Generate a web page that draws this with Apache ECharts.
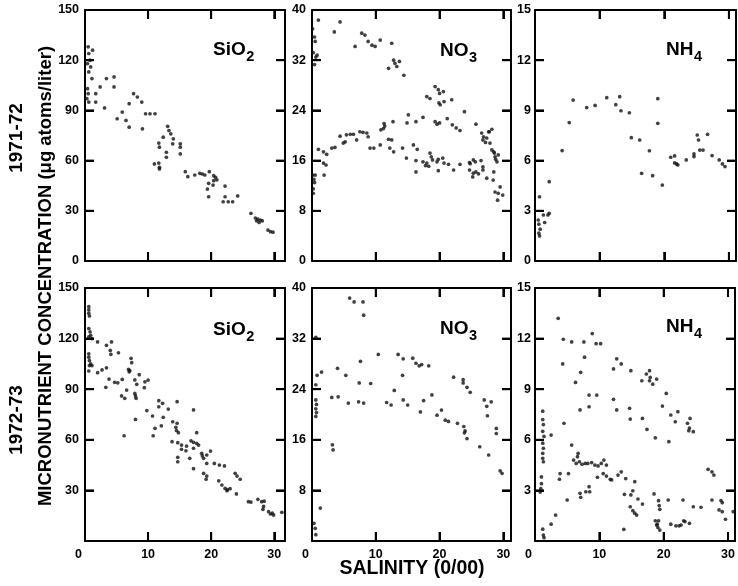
<!DOCTYPE html>
<html>
<head>
<meta charset="utf-8">
<script src="https://cdn.jsdelivr.net/npm/echarts@6/dist/echarts.min.js"></script>
<style>
html,body{margin:0;padding:0;background:#fff;}
#chart{width:738px;height:586px;}
</style>
</head>
<body>
<div id="chart"></div>
<script>
// ---- Data: [salinity (o/oo), concentration (µg atoms/liter)] ----
const sio2_1971 = [
[0.5,128],[1.2,126],[0.6,124],[0.8,120],[0.4,118],[0.9,116],[0.6,113],
[0.4,103],[1.1,109],[0.5,100],[0.3,97],[0.6,95],[1.7,100],[2.4,104],[1.7,95],[3.1,91.5],[3.4,109],[4.6,110],[4.6,104],[5.1,85],[5.9,89],[6.5,84],[7.0,94],[7.0,80],[7.7,100],[8.3,98],[9.0,95],[9.1,79],[9.6,88],[10.3,88],[11.1,88],
[11.7,70.5],[11.8,68],[11.0,58],[11.7,58.5],[11.8,56],[11.8,55],[12.4,74],[13.1,80.5],[13.3,78],[13.6,76],[14.0,73],[12.9,65],[12.9,62],[13.9,70],[15.1,70],[15.1,68],[15.1,64],
[15.9,53.4],[16.3,50.4],[17.4,51.4],[18.2,52.4],[18.6,52],[19.0,51.4],[19.7,53.4],[20.4,51],[20.7,50],[20.4,48],[20.9,48.5],[19.6,46.4],[20.3,45.4],[19.4,43],[19.6,38.4],[22.2,44.8],[22.2,38.4],[21.9,35.4],[22.7,35.4],[23.4,35.4],[24.2,38.9],[26.3,28.5],[27.0,25.7],[27.4,25],[27.8,24.5],[27.6,23],[28.1,24],[27.2,24],[29.0,18.5],[29.4,17.5],[29.8,17.2]
];
const no3_1971 = [
[0.1,37],[0.4,35.7],[0.5,35],[0.2,33.2],[0.6,32.5],[0.4,31.3],[0.8,32.8],[1.0,38.4],[3.5,36.5],[4.4,38.1],[6.75,34.2],[7.8,36.3],[8.3,36.0],[8.8,35.0],[9.4,34.4],[9.9,34.2],[10.7,35.2],[12.5,34.7],[12.0,30.7],[12.8,32],[13.0,31.5],[13.3,31],[13.7,31.8],[14.4,29.6],
[0.1,13.7],[0.3,13.0],[0.5,13.7],[0.2,11.5],[0.4,12.5],[0.2,10.8],[1.8,15.6],[2.2,15.3],[1.9,13.7],
[1.0,17.8],[1.8,17.4],[2.3,17.0],[3.1,18.0],[3.6,18.1],[4.4,19.9],[4.9,18.8],[5.2,19.0],[5.4,20.1],[6.0,20.2],[6.5,20.2],[7.0,19.3],[7.5,20.6],[8.0,20.5],[8.6,20.4],[8.8,19.8],[9.1,18.0],[9.7,18.0],[10.7,18.5],[10.8,20.9],[11.2,21.1],[11.3,21.9],[11.4,21.5],[12.0,19.4],[12.5,19.3],[12.2,18.0],[12.8,17.4],[12.7,22.2],[14.2,18.0],[14.8,16.4],[14.9,22.0],[15.9,18.5],[16.3,16.0],[16.3,14.2],[16.5,17.8],[17.4,15.8],[17.8,15.2],[18.0,15.6],[18.3,15.1],[18.5,17.2],[18.7,16.6],[18.9,16.1],[19.6,15.8],[19.8,16.2],[20.5,16.4],[19.8,14.4],[20.7,15.6],[21.4,15.4],[22.2,14.5],[23.2,15.4],[24.7,15.7],[24.8,15.5],[25.3,16.1],[25.6,15.8],[24.7,14.5],[25.3,14.0],[25.7,14.2],[26.1,13.9],[25.2,13.4],[26.5,16.0],[26.8,15.0],[26.8,14.5],[27.4,13.2],[28.4,12.9],[28.5,14.2],
[15.1,23.3],[16.3,22.2],[17.4,22.9],[18.0,26.2],[18.5,25.9],[19.3,22.2],[19.6,21.8],[20.0,22.0],[19.3,27.8],[19.8,27.3],[20.0,26.7],[19.9,25.2],[20.1,24.9],[20.6,27.0],[20.7,25.4],[21.2,22.7],[21.9,25.7],[22.0,21.7],[22.6,21.2],[23.2,20.8],[23.9,23.8],[25.7,21.8],[27.8,20.6],
[26.6,20.4],[26.9,19.8],[26.8,19.3],[27.2,18.9],[27.4,19.6],[27.9,18.8],[27.7,20.6],[28.2,21.0],[28.2,17.7],[28.5,17.4],[28.6,17.2],[28.7,16.6],[28.8,16.2],[29.0,15.8],[29.2,16.9],[29.5,11.8],[28.7,11.0],[29.2,10.8],[29.9,10.5],[29.1,9.7]
];
const nh4_1971 = [
[0.7,3.84],[0.5,2.45],[0.6,2.2],[0.8,1.9],[0.6,1.66],[0.7,1.5],[1.3,2.75],[1.5,2.3],[2.0,2.75],[2.2,2.85],[2.2,4.74],[4.2,6.6],[5.3,8.27],[5.9,9.62],[8.0,9.17],[9.3,9.3],[11.1,9.76],[12.5,9.34],[13.1,9.82],[13.3,8.98],[14.6,8.86],[14.9,7.37],[16.2,7.23],[17.7,6.59],[16.5,5.24],[18.2,5.1],[19.0,9.7],[19.0,8.23],[19.7,4.54],[21.0,6.2],[21.6,6.28],[21.6,5.86],[21.9,5.8],[22.1,5.74],[23.4,6.04],[24.6,6.4],[24.6,6.24],[25.1,7.53],[25.3,7.23],[25.5,6.63],[26.0,6.63],[26.7,7.57],[27.4,6.3],[28.5,6.04],[29.0,5.8],[29.4,5.64]
];
const sio2_1972 = [
[0.6,138.9],[0.6,137],[0.6,135],[0.7,133.4],[0.6,126],[0.8,124],[0.9,122],[1.1,120],[0.6,121],[2.0,118],[3.4,116],[4.2,118],[4.0,113],[4.1,110.7],[5.3,111.6],[0.6,111],[0.6,109],[0.7,107],[0.9,105],[0.7,104],[1.1,104],[0.6,100.8],[2.0,99.8],[2.7,101.4],[3.4,102.7],[3.8,96],[4.7,94.1],[5.2,93.8],[5.9,95.8],[3.3,91.1],[6.9,101.8],[7.0,100.3],[7.1,101],[7.3,108.3],[7.4,105.7],[8.6,98.6],[7.9,95.5],[8.2,92.9],[9.5,94.4],[10.0,95.4],[9.4,90.9],[6.6,89.5],[5.8,86],[6.3,84.6],[7.9,87.5],[8.0,86],[8.1,84.6],[11.7,83.2],[12.3,81.6],[14.6,82.6],[13.2,78.2],[9.8,77.3],[11.7,79.6],[10.7,74.1],[12.4,73.3],[8.0,72.1],[11.1,66.8],[12.1,68.3],[13.9,70.7],[14.6,69.8],[14.4,67.4],[14.8,64.2],[14.5,65.5],[6.2,62.4],[10.8,62.4],[17.2,77.7],[17.7,64.2],[13.8,58.9],[14.7,58.3],[15.3,56.9],[16.1,56.3],[15.3,54.4],[16.0,53.5],[16.8,59.4],[17.2,58.5],[17.7,57.9],[18.0,56.9],[17.2,55],[16.6,49],[14.7,49.6],[14.7,47],[17.2,42.9],[18.5,52],[18.6,50.5],[18.8,49],[19.3,51],[19.9,53.3],[19.3,46],[20.5,46],[21.3,45],[22.1,44.5],[18.8,40.1],[19.3,38.5],[19.2,36.6],[21.2,35.7],[21.7,33.2],[22.2,31.2],[22.6,30.5],[23.0,31],[22.5,29.8],[23.8,40.1],[24.1,38.5],[24.6,36.6],[24.0,27.9],[25.9,23.3],[26.3,23.1],[27.4,24.7],[28.0,23.3],[28.4,23.6],[28.3,20.5],[28.2,18.8],[29.1,17.4],[29.4,16],[29.7,16.5],[29.9,15.4],[31.2,17.0]
];
const no3_1972 = [
[0.6,32.2],[0.8,26.2],[1.5,26.7],[0.6,24.7],[0.6,22.3],[0.7,21.6],[0.6,20.9],[0.7,20.3],[0.6,19.7],[3.2,15.2],[3.3,14.4],[1.3,5.2],[0.3,2.8],[0.5,2.0],[0.6,1.0],[3.1,22.7],[4.1,22.8],[4.0,27.3],[5.3,26.2],[5.9,38.4],[6.6,37.8],[8.0,37.8],[8.1,35.7],[7.6,28.4],[5.7,21.8],[7.3,22.0],[8.1,21.8],[7.4,25.0],[9.2,24.9],[10.4,29.5],[11.7,21.9],[12.4,21.5],[12.9,23.8],[13.5,29.5],[14.3,28.8],[14.2,26.2],[14.3,22.3],[15.0,21.5],[15.8,28.9],[16.3,28.1],[16.8,27.7],[17.2,27.9],[18.3,27.7],[17.0,20.4],[17.5,22.2],[18.8,23.1],[19.6,19.9],[20.3,20.7],[20.9,19.1],[21.4,18.9],[22.2,25.9],[22.8,18.6],[23.7,25.5],[23.7,25.0],[23.8,18.1],[24.0,17.4],[23.9,17.1],[24.3,24.3],[24.8,23.5],[24.3,16.2],[26.3,14.9],[27.0,22.3],[27.4,21.3],[28.1,22.0],[27.5,19.8],[27.7,13.6],[28.9,17.8],[28.9,17.0],[29.5,11.1],[29.8,10.7]
];
const nh4_1972 = [
[3.6,13.2],[4.4,11.96],[5.7,11.8],[4.3,10.5],[4.5,6.98],[2.5,6.28],[7.6,11.8],[7.7,10.9],[8.9,12.3],[9.5,11.7],[10.2,11.7],[6.3,9.4],[7.1,10.0],[8.4,8.65],[9.6,8.65],[8.4,7.96],[7.0,7.77],[12.2,10.2],[12.7,10.8],[13.4,10.5],[12.2,8.4],[12.7,7.77],[14.9,10.1],[14.7,7.87],[14.8,7.23],[16.6,9.5],[16.7,7.27],[17.4,6.62],[17.3,9.9],[17.8,10.1],[17.9,9.7],[17.8,9.5],[18.3,9.3],[18.9,9.6],[18.7,6.12],[20.4,8.75],[19.8,8.0],[20.8,5.89],[21.1,7.47],[21.8,7.07],[22.2,7.67],[23.7,6.98],[24.0,6.7],[23.9,6.54],[24.1,7.27],[24.6,6.48],
[1.2,7.7],[1.2,7.2],[1.3,6.9],[1.2,6.5],[1.4,6.2],[1.2,5.8],[1.3,5.5],[1.2,5.2],[1.2,4.9],[1.3,4.7],[1.0,3.8],[1.0,3.4],[0.9,3.1],[0.8,2.9],[1.2,0.7],[1.3,0.35],[1.4,0.2],
[5.7,5.69],[6.7,5.2],[6.6,5.0],[6.0,4.8],[6.4,4.6],[6.9,4.7],[7.3,4.55],[7.8,4.6],[8.2,4.6],[8.8,4.65],[9.3,4.5],[9.8,4.45],[10.3,4.6],[10.7,4.8],[11.1,4.5],[3.9,4.0],[3.8,3.66],[5.2,4.0],[9.7,3.78],[10.6,4.0],[11.1,3.85],[11.7,3.66],[11.9,3.62],[12.9,3.91],[13.4,4.1],[14.1,3.7],[15.5,3.52],[13.9,2.77],[15.2,2.98],[14.9,2.73],[16.0,2.49],[16.7,2.19],[14.8,2.03],[15.2,1.8],[15.5,1.65],[15.8,1.54],[13.8,0.69],[18.5,2.79],[19.2,2.39],[19.3,2.1],[19.4,1.88],[20.7,2.43],[23.0,2.43],[24.6,2.03],[25.8,2.0],[27.5,2.43],[28.9,2.4],[29.1,2.27],[28.6,1.84],[29.1,1.74],[29.6,1.29],[30.8,1.74],[26.9,4.25],[27.5,4.1],[27.8,3.91],[18.7,1.2],[18.9,0.95],[19.1,0.8],[19.0,1.0],[19.4,0.65],[19.2,1.2],[21.1,1.0],[21.9,0.9],[22.4,0.9],[22.7,0.95],[23.1,1.2],[23.3,1.15],[24.0,1.05],[5.0,2.43],[7.0,2.83],[7.1,2.59],[7.9,2.92],[8.5,2.92],[8.4,3.22],[3.2,1.54],[2.5,1.0]
];

// ---- Tick labels ----
const xTicks = [0, 10, 20, 30];
const sio2Ticks = [0, 30, 60, 90, 120, 150];
const no3Ticks = [0, 8, 16, 24, 32, 40];
const nh4Ticks = [0, 3, 6, 9, 12, 15];
const rowLabels = ['1971-72', '1972-73'];
const speciesLabels = [['SiO', '2'], ['NO', '3'], ['NH', '4']];
const yTitle = 'MICRONUTRIENT CONCENTRATION (\u03bcg atoms/liter)';
const xTitle = 'SALINITY (0/00)';

// ---- Layout ----
const FONT = '"Liberation Sans", Arial, Helvetica, sans-serif';
const colLeft = [85, 312, 535];
const colWidth = [200, 199, 201];
const colXMax = [31.7, 31.2, 31.1];
const colYLabelMargin = [6, 6, 4];
const rowTop = [10, 288];
const rowHeight = [251, 253];
const TICK_LEN = 9;

const panels = [
  {row: 0, col: 0, data: sio2_1971, ticks: sio2Ticks},
  {row: 0, col: 1, data: no3_1971, ticks: no3Ticks},
  {row: 0, col: 2, data: nh4_1971, ticks: nh4Ticks},
  {row: 1, col: 0, data: sio2_1972, ticks: sio2Ticks},
  {row: 1, col: 1, data: no3_1972, ticks: no3Ticks},
  {row: 1, col: 2, data: nh4_1972, ticks: nh4Ticks}
];

const grids = [], xAxes = [], yAxes = [], series = [];
const lineStyle = () => ({color: '#000', width: 2});
const labelBase = {color: '#000', fontWeight: 'bold', fontSize: 12.5, fontFamily: FONT};

panels.forEach((p, i) => {
  grids.push({
    left: colLeft[p.col], top: rowTop[p.row],
    width: colWidth[p.col], height: rowHeight[p.row],
    show: false
  });
  const xMax = colXMax[p.col];
  const yMax = p.ticks[p.ticks.length - 1];
  const yStep = p.ticks[1] - p.ticks[0];
  ['bottom', 'top'].forEach((pos, k) => {
    xAxes.push({
      type: 'value', gridIndex: i, position: pos, min: 0, max: xMax, interval: 10,
      axisLine: {show: true, onZero: false, lineStyle: lineStyle()},
      splitLine: {show: false},
      axisTick: {show: true, inside: true, length: TICK_LEN, lineStyle: lineStyle()},
      axisLabel: {
        show: k === 0 && p.row === 1, margin: 7, showMaxLabel: false,
        formatter: v => v === 0 ? '{z|0}' : String(v),
        rich: {z: Object.assign({padding: [0, 13, 0, 0]}, labelBase)},
        ...labelBase
      }
    });
  });
  ['left', 'right'].forEach((pos, k) => {
    yAxes.push({
      type: 'value', gridIndex: i, position: pos, min: 0, max: yMax, interval: yStep,
      axisLine: {show: true, onZero: false, lineStyle: lineStyle()},
      splitLine: {show: false},
      axisTick: {show: true, inside: true, length: TICK_LEN, lineStyle: lineStyle()},
      axisLabel: {
        show: k === 0, margin: colYLabelMargin[p.col],
        showMinLabel: p.row === 0,
        ...labelBase
      }
    });
  });
  series.push({
    type: 'scatter', xAxisIndex: 2 * i, yAxisIndex: 2 * i,
    data: p.data, symbol: 'circle', symbolSize: 3.7,
    itemStyle: {color: '#111'}, silent: true, animation: false
  });
});

// ---- Text graphics ----
function measure(text, size) {
  const c = document.createElement('canvas').getContext('2d');
  c.font = 'bold ' + size + 'px ' + FONT;
  return c.measureText(text).width;
}
const graphics = [];
const textStyle = (text, size, extra) => Object.assign({
  text: text, fontSize: size, fontWeight: 'bold', fontFamily: FONT, fill: '#000',
  align: 'center', verticalAlign: 'middle'
}, extra || {});

graphics.push({type: 'text', x: 16.5, y: 138, rotation: Math.PI / 2, style: textStyle(rowLabels[0], 19)});
graphics.push({type: 'text', x: 16.5, y: 420, rotation: Math.PI / 2, style: textStyle(rowLabels[1], 19)});
graphics.push({type: 'text', x: 46, y: 276, rotation: Math.PI / 2, style: textStyle(yTitle, 18.5)});
graphics.push({type: 'text', x: 412, y: 569, style: textStyle(xTitle, 19.5)});

const labelX = [213, 440, 666];
const labelY = [[50, 51, 50], [330, 329, 327]];
for (let r = 0; r < 2; r++) {
  for (let c = 0; c < 3; c++) {
    const [main, sub] = speciesLabels[c];
    const x0 = labelX[c], yc = labelY[r][c];
    const w = measure(main, 19);
    graphics.push({type: 'text', x: x0, y: yc, style: textStyle(main, 19, {align: 'left'})});
    graphics.push({type: 'text', x: x0 + w + 0.5, y: yc + 7, style: textStyle(sub, 14.5, {align: 'left'})});
  }
}

const chart = echarts.init(document.getElementById('chart'), null, {renderer: 'canvas'});
chart.setOption({
  animation: false,
  backgroundColor: '#fff',
  grid: grids, xAxis: xAxes, yAxis: yAxes, series: series
});

// Inward tick marks on all four sides of each frame, located through each panel's own scales
const tickLines = [];
const tickStyle = {stroke: '#000', lineWidth: 2};
panels.forEach((p, i) => {
  const finder = {xAxisIndex: 2 * i, yAxisIndex: 2 * i};
  const xMax = colXMax[p.col];
  const yMax = p.ticks[p.ticks.length - 1];
  xTicks.slice(1).forEach(v => {
    const b = chart.convertToPixel(finder, [v, 0]);
    const t = chart.convertToPixel(finder, [v, yMax]);
    tickLines.push({type: 'line', z: 100, shape: {x1: b[0], y1: b[1], x2: b[0], y2: b[1] - TICK_LEN}, style: tickStyle});
    tickLines.push({type: 'line', z: 100, shape: {x1: t[0], y1: t[1], x2: t[0], y2: t[1] + TICK_LEN}, style: tickStyle});
  });
  p.ticks.slice(1, -1).forEach(v => {
    const l = chart.convertToPixel(finder, [0, v]);
    const r = chart.convertToPixel(finder, [xMax, v]);
    tickLines.push({type: 'line', z: 100, shape: {x1: l[0], y1: l[1], x2: l[0] + TICK_LEN, y2: l[1]}, style: tickStyle});
    tickLines.push({type: 'line', z: 100, shape: {x1: r[0], y1: r[1], x2: r[0] - TICK_LEN, y2: r[1]}, style: tickStyle});
  });
});

chart.setOption({graphic: {elements: graphics.concat(tickLines)}});
</script>
</body>
</html>
